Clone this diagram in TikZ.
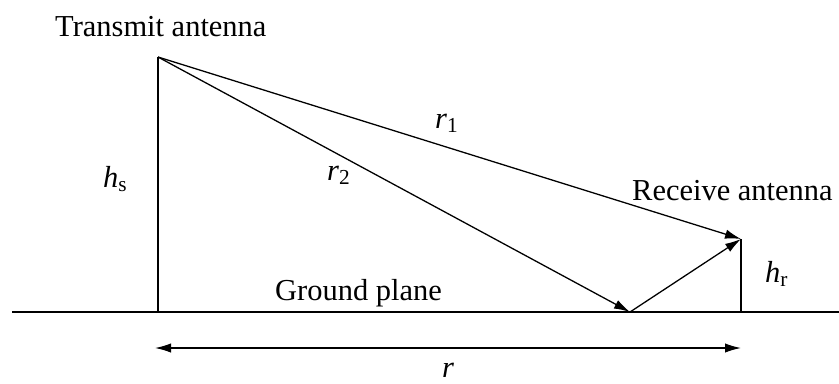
\documentclass[tikz,border=0pt]{standalone}
\usepackage{fontspec}
\setmainfont{Liberation Serif}
\usepackage{tikz}
\usetikzlibrary{positioning, arrows.meta}

\begin{document}
\begin{tikzpicture}[x=0.03cm, y=-0.03cm,
    wire/.style={line width=1.1pt},
    ray/.style={wire, -{Latex[length=4.8mm, width=2.8mm]}},
    span/.style={wire, {Latex[length=4.8mm, width=2.8mm]}-{Latex[length=4.8mm, width=2.8mm]}},
    lbl/.style={inner sep=0pt, anchor=base west, font=\fontsize{26}{30}\selectfont}]
  \useasboundingbox (0,0) rectangle (839,383);

  \coordinate (txtop) at (158,57);
  \coordinate (txfoot) at (158,312);
  \coordinate (rxtop) at (741,239);
  \coordinate (rxfoot) at (741,312);
  \coordinate (bounce) at (630,312);
  \coordinate (gndleft) at (12,312);
  \coordinate (gndright) at (839,312);
  \coordinate (spanleft) at (155,348);
  \coordinate (spanright) at (741,348);

  % ground and the two masts
  \draw[wire] (gndleft) -- (gndright);
  \draw[wire] (txtop) -- (txfoot);
  \draw[wire] (rxtop) -- (rxfoot);

  % direct and reflected paths
  \draw[ray] (txtop) -- (rxtop);
  \draw[ray] (txtop) -- (bounce);
  \draw[ray] (bounce) -- (rxtop);
  \draw[span] (spanleft) -- (spanright);

  \node[lbl] (txlabel) at (55,36) {Transmit antenna};
  \node[lbl] (rxlabel) at (632,200) {Receive antenna};
  \node[lbl] (gndlabel) at (275,300) {Ground plane};
  \node[lbl] (hslabel) at (103,187) {\textit{h}\textsubscript{s}};
  \node[lbl] (hrlabel) at (765,282) {\textit{h}\textsubscript{r}};
  \node[lbl] (rone) at (435,128) {\textit{r}\textsubscript{1}};
  \node[lbl] (rtwo) at (327,180) {\textit{r}\textsubscript{2}};
  \node[lbl, anchor=base] (rlabel) at (448,377) {\textit{r}};
\end{tikzpicture}
\end{document}
